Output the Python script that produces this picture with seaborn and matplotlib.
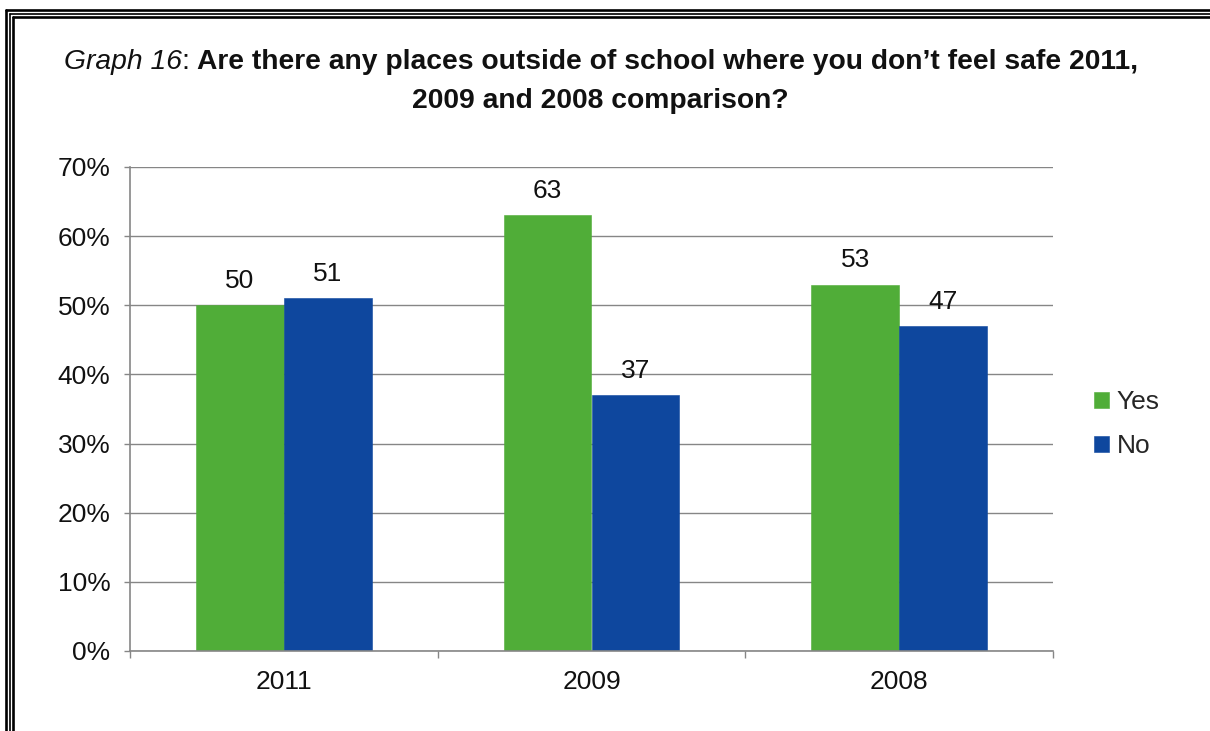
import matplotlib
matplotlib.use("Agg")
import matplotlib.pyplot as plt
import pandas as pd
import seaborn as sb
from matplotlib.lines import Line2D
from matplotlib.ticker import FuncFormatter

# data
years = ["2011", "2009", "2008"]
yes_vals = [50, 63, 53]
no_vals = [51, 37, 47]
series = ["Yes", "No"]
colors = ["#50AD38", "#0E479E"]

df = pd.DataFrame({
    "Year": years * 2,
    "Answer": ["Yes"] * 3 + ["No"] * 3,
    "Value": yes_vals + no_vals,
})

sb.set_theme(style="white")
plt.rcParams["font.family"] = ["Liberation Sans", "DejaVu Sans"]

W, H = 1210, 731
fig = plt.figure(figsize=(W / 100, H / 100), dpi=100)
ax = fig.add_axes([130 / W, 1 - 651 / H, (1053 - 130) / W, (651 - 167) / H])

sb.barplot(data=df, x="Year", y="Value", hue="Answer", hue_order=series,
           palette=colors, width=0.57, saturation=1, ax=ax, legend=True)
# no white outlines, close the hairline gap between touching bars
for p in ax.patches:
    p.set_edgecolor(p.get_facecolor())
    p.set_linewidth(0.4)

for c in ax.containers:
    ax.bar_label(c, fmt="%d", padding=9, fontsize=19, color="#111111")

ax.set_ylim(0, 70)
ax.set_yticks(range(0, 71, 10))
ax.yaxis.set_major_formatter(FuncFormatter(lambda v, p: "%d%%" % v))
ax.set_xlim(-0.5, 2.5)
ax.set_xlabel("")
ax.set_ylabel("")
ax.grid(axis="y", color="#868686", lw=1)
ax.set_axisbelow(True)
for s in ["top", "right"]:
    ax.spines[s].set_visible(False)
for s in ["left", "bottom"]:
    ax.spines[s].set_color("#868686")
    ax.spines[s].set_linewidth(1.2)

ax.tick_params(axis="y", length=4, width=1, color="#868686", pad=10,
               labelsize=19, left=True, labelcolor="#111111")
ax.tick_params(axis="x", which="major", length=0, pad=14, labelsize=19,
               labelcolor="#111111")
ax.set_xticks([-0.5, 0.5, 1.5, 2.5], minor=True)
ax.tick_params(axis="x", which="minor", length=5, width=1, color="#868686",
               bottom=True)

ax.legend(loc="center left", bbox_to_anchor=(1081 / W, 1 - 424 / H),
          bbox_transform=fig.transFigure, frameon=False, fontsize=19,
          handlelength=0.55, handleheight=0.55, handletextpad=0.3,
          labelspacing=0.75, borderpad=0)

# title with mixed styles
renderer = fig.canvas.get_renderer()
tsize = 20.3
parts = [("Graph 16", "italic", "normal"), (": ", "normal", "normal"),
         ("Are there any places outside of school where you don\u2019t feel safe 2011,",
          "normal", "bold")]
objs = []
for txt, st, wt in parts:
    t = fig.text(0, 1 - 62 / H, txt, fontsize=tsize, style=st, weight=wt,
                 va="center", ha="left", color="#111111")
    objs.append(t)
widths = [t.get_window_extent(renderer).width for t in objs]
x0 = 601 - sum(widths) / 2
for t, w in zip(objs, widths):
    t.set_x(x0 / W)
    x0 += w
fig.text(600 / W, 1 - 101 / H, "2009 and 2008 comparison?", fontsize=tsize,
         weight="bold", ha="center", va="center", color="#111111")

# page frame (triple line, cut at right and bottom)
for off, lw in [(6, 1.9), (9.7, 1.2), (13.3, 1.9)]:
    x = off / W
    y = 1 - (off + 4) / H
    fig.add_artist(Line2D([x, x], [0, y], transform=fig.transFigure,
                          color="black", lw=lw))
    fig.add_artist(Line2D([x, 1], [y, y], transform=fig.transFigure,
                          color="black", lw=lw))

fig.savefig("out.png", dpi=100)
